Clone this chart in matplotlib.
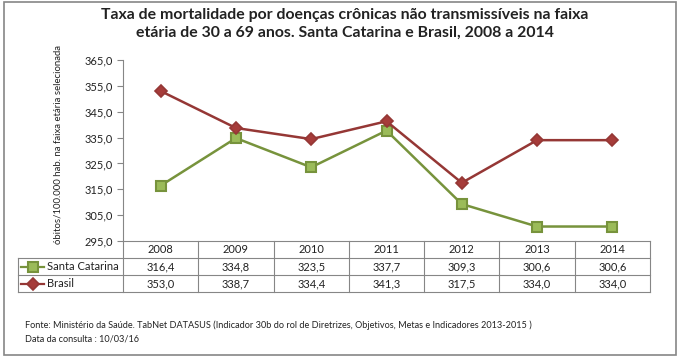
import matplotlib
matplotlib.use("Agg")
import matplotlib.pyplot as plt
from matplotlib.patches import Rectangle
from matplotlib.lines import Line2D

plt.rcParams['font.family'] = ['Lato', 'DejaVu Sans']

# data
years = ['2008', '2009', '2010', '2011', '2012', '2013', '2014']
santa_catarina = [316.4, 334.8, 323.5, 337.7, 309.3, 300.6, 300.6]
brasil = [353.0, 338.7, 334.4, 341.3, 317.5, 334.0, 334.0]
series_names = ['Santa Catarina', 'Brasil']
y_ticks = [295, 305, 315, 325, 335, 345, 355, 365]

title = ('Taxa de mortalidade por doenças crônicas não transmissíveis na faixa\n'
         'etária de 30 a 69 anos. Santa Catarina e Brasil, 2008 a 2014')
y_label = 'óbitos/100.000 hab. na faixa etária selecionada'
source = ('Fonte: Ministério da Saúde. TabNet DATASUS (Indicador 30b do rol de Diretrizes, '
          'Objetivos, Metas e Indicadores 2013-2015 )\nData da consulta : 10/03/16')

def fmt(v):
    return f'{v:.1f}'.replace('.', ',')

W, H = 680, 360
fig = plt.figure(figsize=(W / 100, H / 100), dpi=100)

# pixel layout
x0, x1 = 123, 650
ytop, ybot = 60, 241
ax = fig.add_axes([x0 / W, 1 - ybot / H, (x1 - x0) / W, (ybot - ytop) / H])

green_line, green_fill = '#77933C', '#9BBB59'
red_line, red_fill = '#953735', '#A63C3A'
styles = [
    dict(color=green_line, marker='s', markersize=7, markerfacecolor=green_fill,
         markeredgecolor=green_line, markeredgewidth=1.5, linewidth=1.8),
    dict(color=red_line, marker='D', markersize=6.5, markerfacecolor=red_fill,
         markeredgecolor=red_line, markeredgewidth=1.2, linewidth=1.8),
]
xs = list(range(len(years)))
ax.plot(xs, santa_catarina, **styles[0])
ax.plot(xs, brasil, **styles[1])

ax.set_xlim(-0.5, len(years) - 0.5)
ax.set_ylim(y_ticks[0], y_ticks[-1])
ax.set_yticks(y_ticks)
ax.set_yticklabels([fmt(v) for v in y_ticks], fontsize=8, color='#222222')
ax.set_xticks([])
ax.tick_params(axis='y', direction='out', length=4, color='#868686', width=0.8, pad=3)
for s in ['top', 'right']:
    ax.spines[s].set_visible(False)
for s in ['left', 'bottom']:
    ax.spines[s].set_color('#868686')
    ax.spines[s].set_linewidth(0.8)
ax.patch.set_alpha(0)

# overlay in pixel coords for table, title, notes
ov = fig.add_axes([0, 0, 1, 1], zorder=5)
ov.set_xlim(0, W)
ov.set_ylim(H, 0)
ov.axis('off')

ov.add_patch(Rectangle((4, 2), 672, 353, fill=False, edgecolor='#868686', linewidth=1.2))

ov.text(58, 145, y_label, rotation=90, ha='center', va='center', fontsize=6.9,
        color='#222222')

grid_c = '#868686'
lw = 0.8
row_y = [241, 258, 275, 292]
leg_x = 18
ncol = len(years)
cw = (x1 - x0) / ncol
for y in row_y[1:]:
    ov.add_line(Line2D([leg_x, x1], [y, y], color=grid_c, lw=lw))
for k in range(ncol + 1):
    ov.add_line(Line2D([x0 + k * cw] * 2, [row_y[0], row_y[-1]], color=grid_c, lw=lw))
ov.add_line(Line2D([leg_x, leg_x], [row_y[1], row_y[-1]], color=grid_c, lw=lw))

for i, yr in enumerate(years):
    ov.text(x0 + cw * (i + 0.5), (row_y[0] + row_y[1]) / 2, yr, ha='center', va='center',
            fontsize=8, color='#222222')
for r, vals in enumerate([santa_catarina, brasil]):
    yc = (row_y[r + 1] + row_y[r + 2]) / 2
    for i, v in enumerate(vals):
        ov.text(x0 + cw * (i + 0.5), yc, fmt(v), ha='center', va='center',
                fontsize=8, color='#222222')
    st = dict(styles[r])
    st['markersize'] = st['markersize'] - 0.5
    st['linewidth'] = 1.6
    ov.plot([21, 44], [yc, yc], markevery=[], **st)
    ov.plot([32.5], [yc], **st)
    ov.text(47, yc, series_names[r], ha='left', va='center', fontsize=8, color='#222222')

ov.text(345, 24, title, ha='center', va='center', fontsize=11.4, fontweight='bold',
        color='#222222', linespacing=1.4)
ov.text(25, 332, source, ha='left', va='center', fontsize=6.6, color='#222222',
        linespacing=1.6)

fig.savefig('out.png', dpi=100)
